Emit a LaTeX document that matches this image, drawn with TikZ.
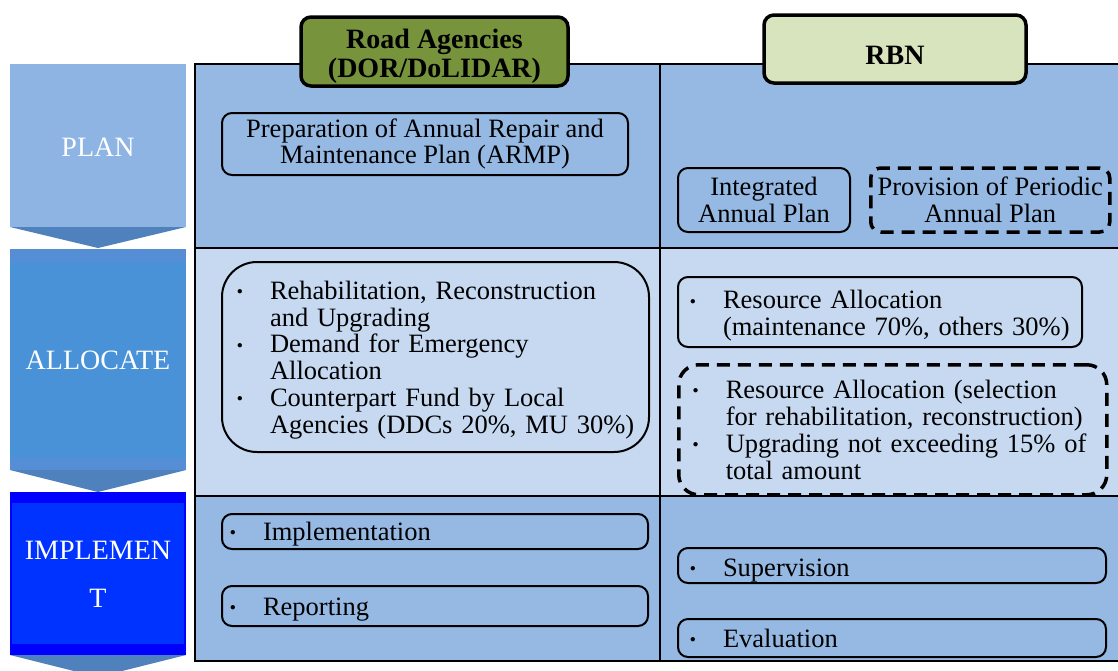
\documentclass[tikz,border=0pt]{standalone}
\usepackage{fontspec}
\setmainfont{Liberation Serif}
\usetikzlibrary{positioning}

\definecolor{planblue}{HTML}{8DB4E2}
\definecolor{tipblue}{HTML}{4F81BD}
\definecolor{allocrim}{HTML}{558ED5}
\definecolor{allocblue}{HTML}{4A92D8}
\definecolor{implrim}{HTML}{0000FF}
\definecolor{implblue}{HTML}{0033FF}
\definecolor{rowdark}{HTML}{95B9E3}
\definecolor{rowlight}{HTML}{C6D9F1}
\definecolor{olivehead}{HTML}{77933C}
\definecolor{palehead}{HTML}{D7E4BD}

% one bulleted line, and its hanging continuation
\newcommand{\bul}[1]{\mbox{\makebox[33pt][l]{\raisebox{0.18em}{\scalebox{0.45}{$\bullet$}}}#1}}
\newcommand{\cont}[1]{\mbox{\hspace*{33pt}#1}}

\begin{document}
\begin{tikzpicture}[x=1pt,y=-1pt,
  font=\fontsize{26.5}{26.8}\selectfont,
  phase/.style={text=white,font=\fontsize{28}{48}\selectfont,align=center},
  head/.style={draw,line width=3.5pt,rounded corners=10pt,inner sep=0pt,
    font=\fontsize{28}{29}\selectfont\bfseries,align=center},
  cell/.style={draw,line width=2pt,rounded corners=10pt,inner sep=0pt,align=center},
  dashcell/.style={cell,line width=3.5pt,dash pattern=on 13pt off 8pt},
  item/.style={cell,align=left},
  oneline/.style={text height=18pt,text depth=0pt},
]
  \useasboundingbox (0,0) rectangle (1118,670);

  % table rows and rules
  \fill[rowdark] (195,64) rectangle (1125,248);
  \fill[rowlight] (195,248) rectangle (1125,496);
  \fill[rowdark] (195,496) rectangle (1125,661);
  \draw[line width=1.5pt] (195,64) rectangle (1125,661);
  \draw[line width=1.5pt] (195,248) -- (1125,248) (195,496) -- (1125,496)
    (660,64) -- (660,661);

  % phase arrows on the left
  \fill[planblue] (10,64) rectangle (186,227);
  \fill[tipblue] (10,227) -- (186,227) -- (98,248) -- cycle;
  \fill[allocrim] (10,249) rectangle (186,470);
  \fill[allocblue] (10,262) rectangle (186,458);
  \fill[tipblue] (10,470) -- (186,470) -- (98,492) -- cycle;
  \fill[implrim] (10,492) rectangle (186,655);
  \fill[implblue] (12,503) rectangle (184,644);
  \fill[tipblue] (10,655) -- (186,655) -- (98,677) -- cycle;

  \node[phase] (plan) at (98,147) {PLAN};
  \node[phase] (allocate) at (98,360) {ALLOCATE};
  \node[phase] (implement) at (98,574) {IMPLEMEN\\T};

  % column heads
  \node[head,fill=olivehead,minimum width=267pt,minimum height=69pt,text height=58.5pt] (roads) at (434.5,51.5) {Road Agencies\\(DOR/DoLIDAR)};
  \node[head,fill=palehead,minimum width=262pt,minimum height=68pt,text height=31pt,text depth=0pt] (rbn) at (895,49) {RBN};

  % plan row
  \node[cell,minimum width=406pt,minimum height=62pt] (armp) at (425,144) {Preparation of Annual Repair and\\Maintenance Plan (ARMP)};
  \node[cell,minimum width=172pt,minimum height=64pt] (integ) at (764,200) {Integrated\\Annual Plan};
  \node[dashcell,minimum width=239pt,minimum height=64pt] (periodic) [right=18pt of integ] {Provision of Periodic\\Annual Plan};

  % allocate row
  \node[item,rounded corners=35pt,minimum height=190pt,text width=397pt,inner xsep=15pt,text height=24.5pt] (demand) at (435.5,357) {\bul{Rehabilitation, Reconstruction}\\
    \cont{and Upgrading}\\
    \bul{Demand for Emergency}\\
    \cont{Allocation}\\
    \bul{Counterpart Fund by Local}\\
    \cont{Agencies (DDCs 20\%, MU 30\%)}};
  \node[item,minimum height=70pt,text width=380pt,inner xsep=12pt,text height=26pt] (share) at (880,312) {\bul{Resource Allocation}\\
    \cont{(maintenance 70\%, others 30\%)}};
  \node[dashcell,align=left,rounded corners=20pt,minimum height=130pt,text width=400pt,inner xsep=14pt] (select) [below right=15pt and 0pt of share.south west] {\bul{Resource Allocation (selection}\\
    \cont{for rehabilitation, reconstruction)}\\
    \bul{Upgrading not exceeding 15\% of}\\
    \cont{total amount}};

  % implement row
  \node[item,oneline,minimum height=35pt,text width=410pt,inner xsep=8pt] (works) at (435,531.5) {\bul{Implementation}};
  \node[item,oneline,minimum height=40pt,text width=410pt,inner xsep=8pt] (report) [below=35pt of works] {\bul{Reporting}};
  \node[item,oneline,minimum height=35pt,text width=404pt,inner xsep=12pt,text height=21pt] (supervise) at (892,565.5) {\bul{Supervision}};
  \node[item,oneline,minimum height=38pt,text width=404pt,inner xsep=12pt] (evaluate) [below=34pt of supervise] {\bul{Evaluation}};

\end{tikzpicture}
\end{document}
